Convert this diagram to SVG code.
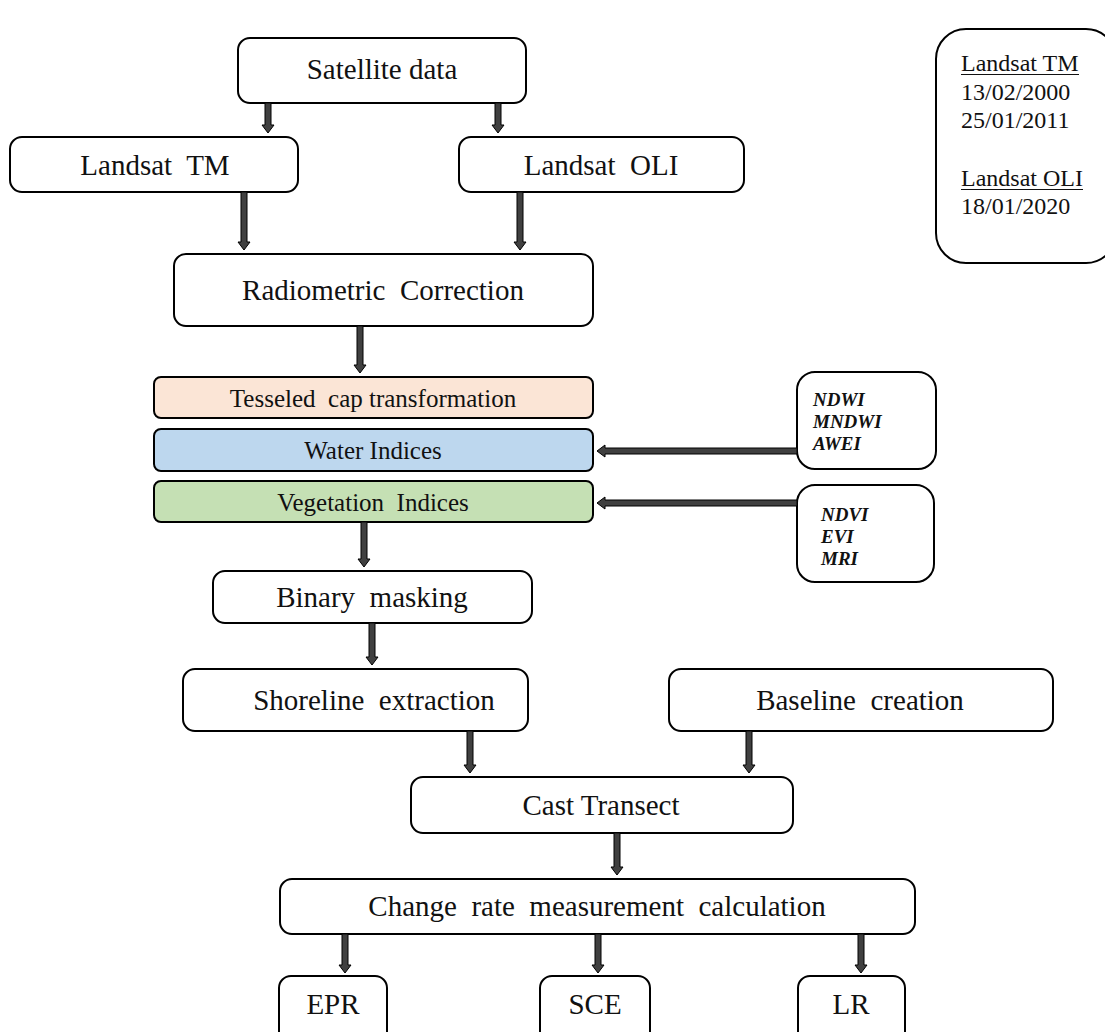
<svg xmlns="http://www.w3.org/2000/svg" width="1105" height="1032" viewBox="0 0 1105 1032">
<style>
.box{fill:#fff;stroke:#000;stroke-width:2}
.t{font-family:"Liberation Serif","Times New Roman",serif;fill:#111;text-anchor:middle;white-space:pre}
.big{font-size:29px}
.mid{font-size:25px}
.idx{font-family:"Liberation Serif","Times New Roman",serif;font-size:19px;font-weight:bold;font-style:italic;fill:#111}
.note{font-family:"Liberation Serif","Times New Roman",serif;font-size:24px;fill:#111}
.ul{stroke:#111;stroke-width:1.2}
.arr{fill:#404040;stroke:#000;stroke-width:1}
</style>
<rect width="1105" height="1032" fill="#fff"/>
<g id="n-satellite"><rect class="box" x="238" y="38" width="288" height="65" rx="12"/><text class="t big" x="382" y="79">Satellite data</text></g>
<g id="n-tm"><rect class="box" x="10" y="137" width="288" height="55" rx="12"/><text class="t big" x="155" y="175">Landsat  TM</text></g>
<g id="n-oli"><rect class="box" x="459" y="137" width="285" height="55" rx="12"/><text class="t big" x="601" y="175">Landsat  OLI</text></g>
<g id="n-dates"><rect class="box" x="936" y="29" width="180" height="234" rx="30"/>
<text class="note" x="961" y="71">Landsat TM</text>
<line class="ul" x1="961" y1="74.5" x2="1079" y2="74.5"/>
<text class="note" x="961" y="100">13/02/2000</text>
<text class="note" x="961" y="128">25/01/2011</text>
<text class="note" x="961" y="186">Landsat OLI</text>
<line class="ul" x1="961" y1="189.5" x2="1083" y2="189.5"/>
<text class="note" x="961" y="214">18/01/2020</text></g>
<g id="n-radio"><rect class="box" x="174" y="254" width="419" height="72" rx="12"/><text class="t big" x="383" y="300">Radiometric  Correction</text></g>
<g id="n-tcap"><rect x="154" y="377" width="439" height="41" rx="7" fill="#fbe5d6" stroke="#000" stroke-width="2"/><text class="t mid" x="373" y="407">Tesseled  cap transformation</text></g>
<g id="n-water"><rect x="154" y="429" width="439" height="42" rx="7" fill="#bdd7ee" stroke="#000" stroke-width="2"/><text class="t mid" x="373" y="459">Water Indices</text></g>
<g id="n-veg"><rect x="154" y="481" width="439" height="41" rx="7" fill="#c5e0b4" stroke="#000" stroke-width="2"/><text class="t mid" x="373" y="511">Vegetation  Indices</text></g>
<g id="n-wi"><rect class="box" x="797" y="372" width="139" height="97" rx="18"/>
<text class="idx" x="813" y="406">NDWI</text><text class="idx" x="813" y="428">MNDWI</text><text class="idx" x="813" y="450">AWEI</text></g>
<g id="n-vi"><rect class="box" x="797" y="485" width="137" height="97" rx="18"/>
<text class="idx" x="821" y="521">NDVI</text><text class="idx" x="821" y="543">EVI</text><text class="idx" x="821" y="565">MRI</text></g>
<g id="n-binary"><rect class="box" x="213" y="571" width="319" height="52" rx="12"/><text class="t big" x="372" y="607">Binary  masking</text></g>
<g id="n-shore"><rect class="box" x="183" y="669" width="345" height="62" rx="12"/><text class="t big" x="374" y="710">Shoreline  extraction</text></g>
<g id="n-base"><rect class="box" x="669" y="669" width="384" height="62" rx="12"/><text class="t big" x="860" y="710">Baseline  creation</text></g>
<g id="n-cast"><rect class="box" x="411" y="777" width="382" height="56" rx="12"/><text class="t big" x="601" y="815">Cast Transect</text></g>
<g id="n-change"><rect class="box" x="280" y="879" width="635" height="55" rx="12"/><text class="t big" x="597" y="916">Change  rate  measurement  calculation</text></g>
<g id="n-epr"><rect class="box" x="279" y="976" width="108" height="70" rx="12"/><text class="t big" x="333" y="1014">EPR</text></g>
<g id="n-sce"><rect class="box" x="540" y="976" width="110" height="70" rx="12"/><text class="t big" x="595" y="1014">SCE</text></g>
<g id="n-lr"><rect class="box" x="798" y="976" width="107" height="70" rx="12"/><text class="t big" x="851" y="1014">LR</text></g>
<g id="connectors">
<path class="arr" d="M265 103H271V125H274L268 133L262 125H265Z"/>
<path class="arr" d="M495 103H501V125H504L498 133L492 125H495Z"/>
<path class="arr" d="M241 192H247V242H250L244 250L238 242H241Z"/>
<path class="arr" d="M517 192H523V242H526L520 250L514 242H517Z"/>
<path class="arr" d="M357 326H363V365H366L360 373L354 365H357Z"/>
<path class="arr" d="M797 448V454H605V457L597 451L605 445V448Z"/>
<path class="arr" d="M797 500V506H605V509L597 503L605 497V500Z"/>
<path class="arr" d="M361 522H367V559H370L364 567L358 559H361Z"/>
<path class="arr" d="M369 623H375V657H378L372 665L366 657H369Z"/>
<path class="arr" d="M467 731H473V765H476L470 773L464 765H467Z"/>
<path class="arr" d="M746 731H752V765H755L749 773L743 765H746Z"/>
<path class="arr" d="M614 833H620V867H623L617 875L611 867H614Z"/>
<path class="arr" d="M342 934H348V965H351L345 973L339 965H342Z"/>
<path class="arr" d="M595 934H601V965H604L598 973L592 965H595Z"/>
<path class="arr" d="M858 934H864V965H867L861 973L855 965H858Z"/>
</g>
</svg>
